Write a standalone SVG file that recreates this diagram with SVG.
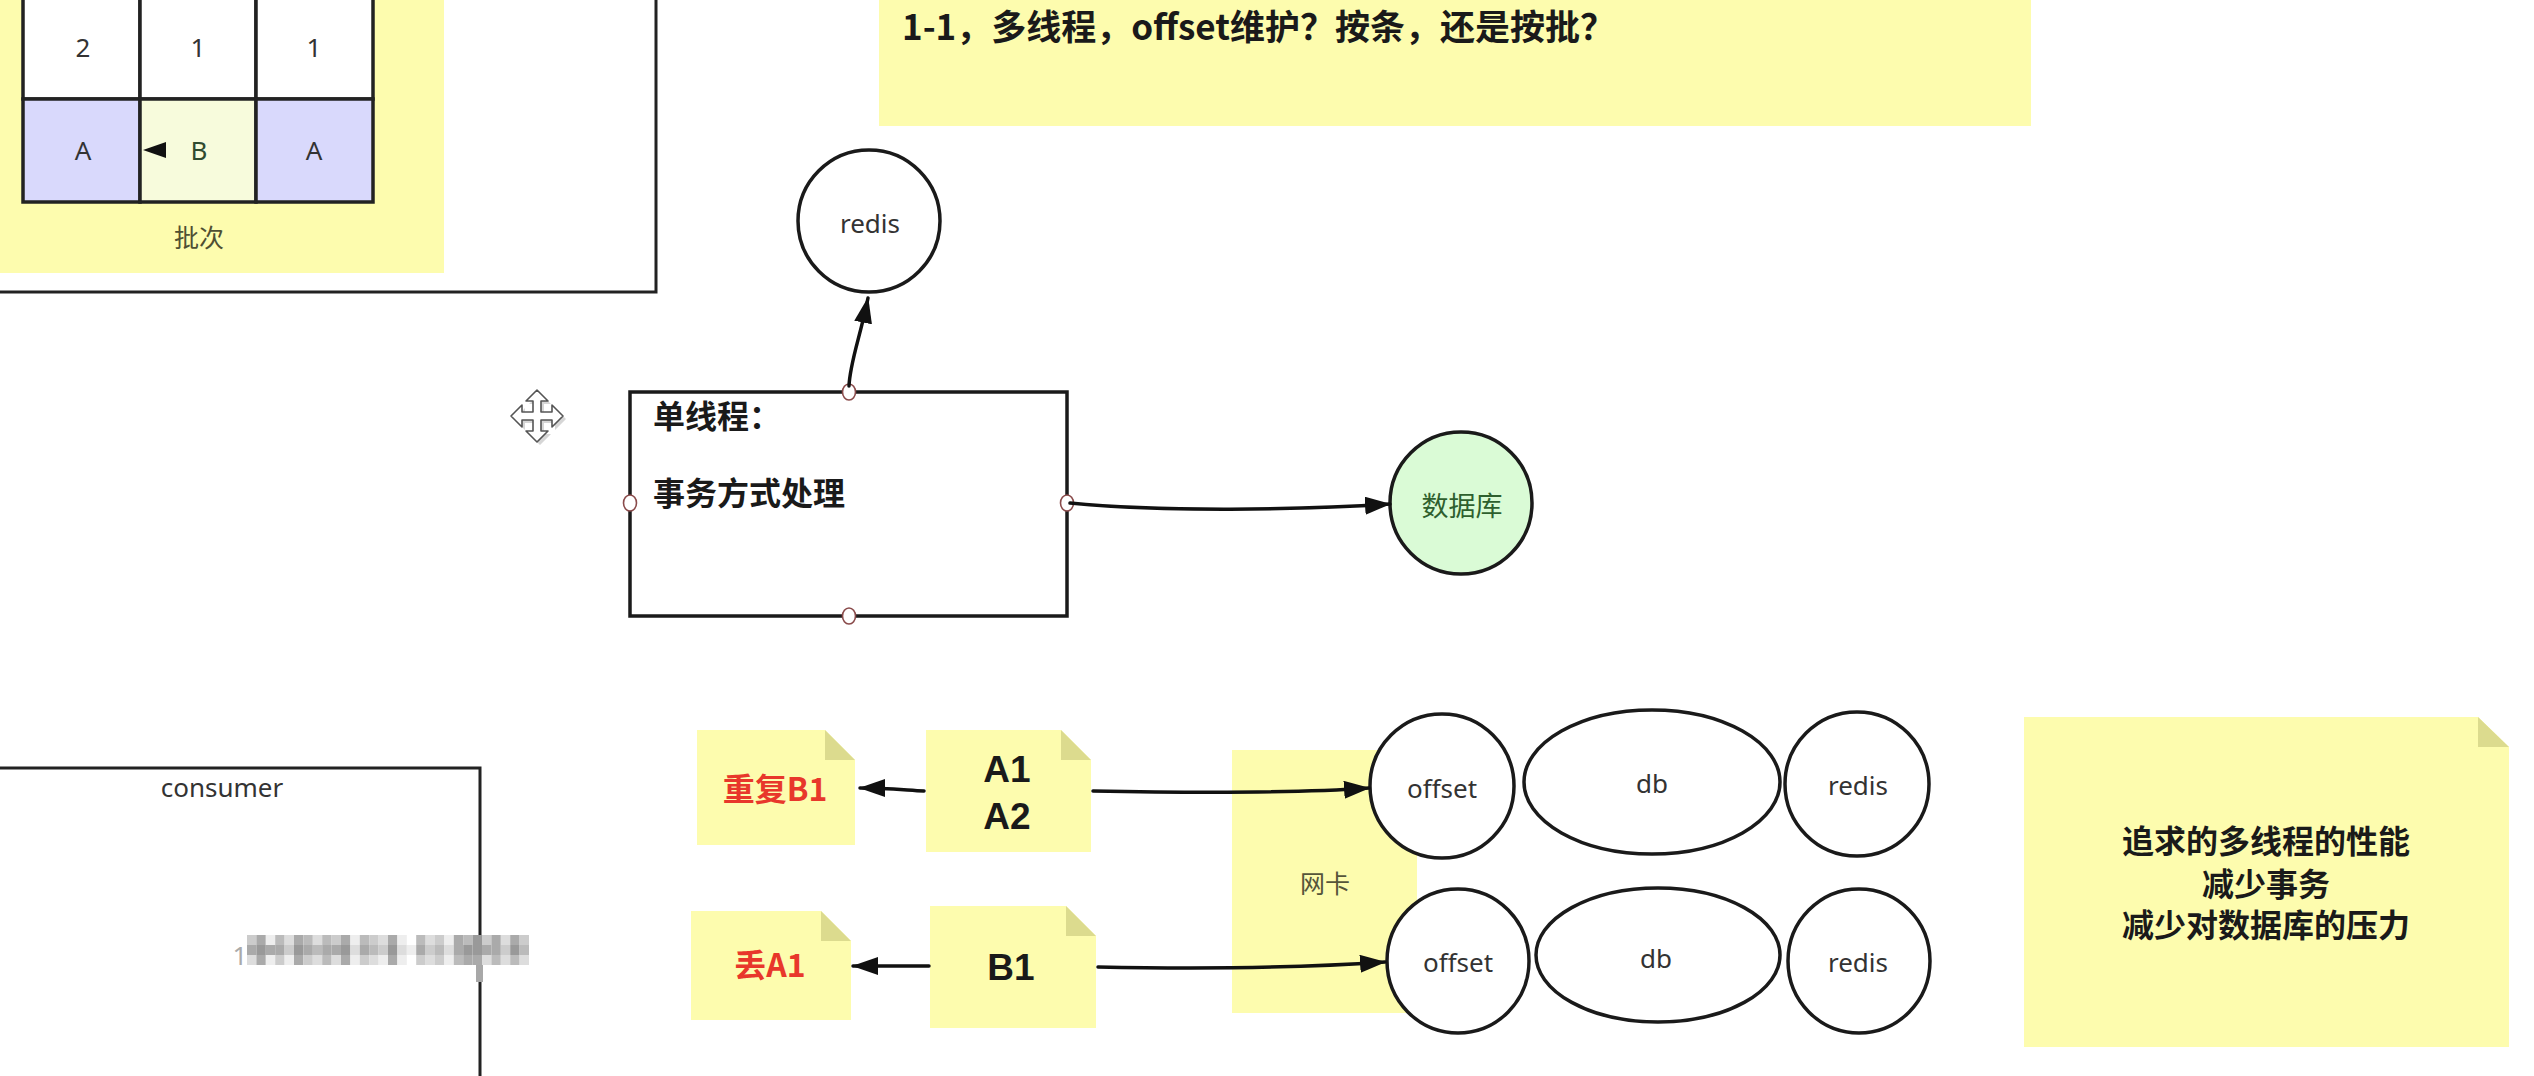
<svg xmlns="http://www.w3.org/2000/svg" width="2534" height="1076" viewBox="0 0 2534 1076">
  <defs>
    <style>
      .note { fill: #fdfcae; }
      .fold { fill: #dcdb8e; }
      .shape { fill: #ffffff; stroke: #1a1a1a; stroke-width: 3.5; }
      .cell { stroke: #222222; stroke-width: 3.5; }
      .frame { fill: none; stroke: #222222; stroke-width: 3; }
      .edge { fill: none; stroke: #111111; stroke-width: 3.5; stroke-linecap: round; }
      .port { fill: #ffffff; stroke: #8a4b4b; stroke-width: 1.6; }
      .lbl { font-family: "Noto Sans", "Noto Sans CJK SC", sans-serif; font-size: 26px; fill: #333333; text-anchor: middle; }
      .cjk { font-family: "Noto Sans CJK SC", "Noto Sans", sans-serif; }
      .bold { font-family: "Noto Sans CJK SC", "Noto Sans", sans-serif; font-weight: 700; fill: #1a1a1a; }
      .latin { font-family: "Liberation Sans", Arial, sans-serif; font-weight: 700; fill: #1a1a1a; text-anchor: middle; }
      .red { fill: #e8372b; }
    </style>
    <marker id="ah" viewBox="0 0 26 18" refX="25" refY="9" markerWidth="26" markerHeight="18" orient="auto" markerUnits="userSpaceOnUse">
      <path d="M0,0 L26,9 L0,18 Z" fill="#111111"/>
    </marker>
  </defs>

  <rect x="0" y="0" width="2534" height="1076" fill="#ffffff"/>

  <!-- upper-left frame with the batch table -->
  <g id="batch-frame">
    <path class="frame" d="M0,292 H656 V0"/>
    <rect class="note" x="0" y="0" width="444" height="273"/>
  </g>
  <g id="batch-table">
    <rect class="cell" x="23" y="-5" width="117" height="104" fill="#ffffff"/>
    <rect class="cell" x="140" y="-5" width="116" height="104" fill="#ffffff"/>
    <rect class="cell" x="256" y="-5" width="117" height="104" fill="#ffffff"/>
    <rect class="cell" x="23" y="99" width="117" height="103" fill="#d9d9fc"/>
    <rect class="cell" x="140" y="99" width="116" height="103" fill="#f7fbdc"/>
    <rect class="cell" x="256" y="99" width="117" height="103" fill="#d9d9fc"/>
    <text class="lbl" x="83" y="57" font-size="28">2</text>
    <text class="lbl" x="198" y="57" font-size="28">1</text>
    <text class="lbl" x="314" y="57" font-size="28">1</text>
    <text class="lbl" x="83" y="160" font-size="28">A</text>
    <text class="lbl" x="199" y="160" font-size="28" style="fill:#2f4a2f">B</text>
    <text class="lbl" x="314" y="160" font-size="28">A</text>
    <path d="M143,150 L166,142 L166,158 Z" fill="#111111"/>
    <text class="lbl cjk" x="199" y="247" style="font-size:25px;fill:#4f4f33">批次</text>
  </g>

  <!-- question banner -->
  <g id="question-note">
    <rect class="note" x="879" y="0" width="1152" height="126"/>
    <text class="bold" x="902" y="40" font-size="35">1-1，多线程，offset维护？按条，还是按批？</text>
  </g>

  <!-- single-thread flow -->
  <g id="redis-top">
    <ellipse class="shape" cx="869" cy="221" rx="71" ry="71"/>
    <text class="lbl" x="870" y="233">redis</text>
  </g>
  <g id="single-thread">
    <rect class="shape" x="630" y="392" width="437" height="224"/>
    <text class="bold" x="653" y="428" font-size="32">单线程：</text>
    <text class="bold" x="653" y="505" font-size="32">事务方式处理</text>
    <ellipse class="port" cx="849" cy="392" rx="6.5" ry="8"/>
    <ellipse class="port" cx="630" cy="503" rx="6.5" ry="8"/>
    <ellipse class="port" cx="1067" cy="503" rx="6.5" ry="8"/>
    <ellipse class="port" cx="849" cy="616" rx="6.5" ry="8"/>
  </g>
  <g id="database">
    <ellipse cx="1461" cy="503" rx="71" ry="71" fill="#dafbd6" stroke="#1a1a1a" stroke-width="3.5"/>
    <text class="lbl cjk" x="1462" y="516" style="font-size:27px;fill:#2e5f2e">数据库</text>
  </g>

  <!-- move cursor -->
  <g id="move-cursor" transform="translate(537,416)">
    <path transform="translate(3,3)" fill="#bbbbbb" opacity="0.6" d="M0,-26 L11,-15 L4,-15 L4,-4 L15,-4 L15,-11 L26,0 L15,11 L15,4 L4,4 L4,15 L11,15 L0,26 L-11,15 L-4,15 L-4,4 L-15,4 L-15,11 L-26,0 L-15,-11 L-15,-4 L-4,-4 L-4,-15 L-11,-15 Z"/>
    <path fill="#ffffff" stroke="#555555" stroke-width="1.6" stroke-linejoin="round" d="M0,-26 L11,-15 L4,-15 L4,-4 L15,-4 L15,-11 L26,0 L15,11 L15,4 L4,4 L4,15 L11,15 L0,26 L-11,15 L-4,15 L-4,4 L-15,4 L-15,11 L-26,0 L-15,-11 L-15,-4 L-4,-4 L-4,-15 L-11,-15 Z"/>
  </g>

  <!-- consumer frame -->
  <g id="consumer">
    <path class="frame" d="M0,768 H480 V935 M480,982 V1076"/>
    <rect x="476" y="935" width="7" height="47" fill="#a8a8a8"/>
    <text class="lbl" x="222" y="797">consumer</text>
    <text class="lbl" x="240" y="965" style="fill:#aaaaaa">1</text>
    <g id="mosaic">
      <rect x="247" y="935" width="9.4" height="10" fill="#cccccc"/><rect x="256.4" y="935" width="9.4" height="10" fill="#aaaaaa"/><rect x="265.8" y="935" width="9.4" height="10" fill="#eeeeee"/><rect x="275.2" y="935" width="9.4" height="10" fill="#bbbbbb"/><rect x="284.6" y="935" width="9.4" height="10" fill="#dddddd"/><rect x="294" y="935" width="9.4" height="10" fill="#aaaaaa"/><rect x="303.4" y="935" width="9.4" height="10" fill="#bbbbbb"/><rect x="312.8" y="935" width="9.4" height="10" fill="#dddddd"/><rect x="322.2" y="935" width="9.4" height="10" fill="#bbbbbb"/><rect x="331.6" y="935" width="9.4" height="10" fill="#cccccc"/><rect x="341" y="935" width="9.4" height="10" fill="#aaaaaa"/><rect x="350.4" y="935" width="9.4" height="10" fill="#eeeeee"/><rect x="359.8" y="935" width="9.4" height="10" fill="#bbbbbb"/><rect x="369.2" y="935" width="9.4" height="10" fill="#cccccc"/><rect x="378.6" y="935" width="9.4" height="10" fill="#dddddd"/><rect x="388" y="935" width="9.4" height="10" fill="#aaaaaa"/><rect x="397.4" y="935" width="9.4" height="10" fill="#eeeeee"/><rect x="416.2" y="935" width="9.4" height="10" fill="#bbbbbb"/><rect x="425.6" y="935" width="9.4" height="10" fill="#dddddd"/><rect x="435" y="935" width="9.4" height="10" fill="#cccccc"/><rect x="444.4" y="935" width="9.4" height="10" fill="#eeeeee"/><rect x="453.8" y="935" width="9.4" height="10" fill="#aaaaaa"/><rect x="463.2" y="935" width="9.4" height="10" fill="#bbbbbb"/><rect x="472.6" y="935" width="9.4" height="10" fill="#999999"/><rect x="482" y="935" width="9.4" height="10" fill="#cccccc"/><rect x="491.4" y="935" width="9.4" height="10" fill="#aaaaaa"/><rect x="500.8" y="935" width="9.4" height="10" fill="#dddddd"/><rect x="510.2" y="935" width="9.4" height="10" fill="#aaaaaa"/><rect x="519.6" y="935" width="9.4" height="10" fill="#cccccc"/>
      <rect x="247" y="945" width="9.4" height="10" fill="#aaaaaa"/><rect x="256.4" y="945" width="9.4" height="10" fill="#999999"/><rect x="265.8" y="945" width="9.4" height="10" fill="#aaaaaa"/><rect x="275.2" y="945" width="9.4" height="10" fill="#aaaaaa"/><rect x="284.6" y="945" width="9.4" height="10" fill="#cccccc"/><rect x="294" y="945" width="9.4" height="10" fill="#999999"/><rect x="303.4" y="945" width="9.4" height="10" fill="#aaaaaa"/><rect x="312.8" y="945" width="9.4" height="10" fill="#bbbbbb"/><rect x="322.2" y="945" width="9.4" height="10" fill="#aaaaaa"/><rect x="331.6" y="945" width="9.4" height="10" fill="#aaaaaa"/><rect x="341" y="945" width="9.4" height="10" fill="#999999"/><rect x="350.4" y="945" width="9.4" height="10" fill="#dddddd"/><rect x="359.8" y="945" width="9.4" height="10" fill="#aaaaaa"/><rect x="369.2" y="945" width="9.4" height="10" fill="#bbbbbb"/><rect x="378.6" y="945" width="9.4" height="10" fill="#cccccc"/><rect x="388" y="945" width="9.4" height="10" fill="#999999"/><rect x="397.4" y="945" width="9.4" height="10" fill="#dddddd"/><rect x="406.8" y="945" width="9.4" height="10" fill="#eeeeee"/><rect x="416.2" y="945" width="9.4" height="10" fill="#aaaaaa"/><rect x="425.6" y="945" width="9.4" height="10" fill="#cccccc"/><rect x="435" y="945" width="9.4" height="10" fill="#bbbbbb"/><rect x="444.4" y="945" width="9.4" height="10" fill="#dddddd"/><rect x="453.8" y="945" width="9.4" height="10" fill="#aaaaaa"/><rect x="463.2" y="945" width="9.4" height="10" fill="#999999"/><rect x="472.6" y="945" width="9.4" height="10" fill="#999999"/><rect x="482" y="945" width="9.4" height="10" fill="#aaaaaa"/><rect x="491.4" y="945" width="9.4" height="10" fill="#aaaaaa"/><rect x="500.8" y="945" width="9.4" height="10" fill="#cccccc"/><rect x="510.2" y="945" width="9.4" height="10" fill="#999999"/><rect x="519.6" y="945" width="9.4" height="10" fill="#bbbbbb"/>
      <rect x="247" y="955" width="9.4" height="10" fill="#dddddd"/><rect x="256.4" y="955" width="9.4" height="10" fill="#aaaaaa"/><rect x="265.8" y="955" width="9.4" height="10" fill="#eeeeee"/><rect x="275.2" y="955" width="9.4" height="10" fill="#cccccc"/><rect x="284.6" y="955" width="9.4" height="10" fill="#eeeeee"/><rect x="294" y="955" width="9.4" height="10" fill="#aaaaaa"/><rect x="303.4" y="955" width="9.4" height="10" fill="#cccccc"/><rect x="312.8" y="955" width="9.4" height="10" fill="#dddddd"/><rect x="322.2" y="955" width="9.4" height="10" fill="#bbbbbb"/><rect x="331.6" y="955" width="9.4" height="10" fill="#dddddd"/><rect x="341" y="955" width="9.4" height="10" fill="#aaaaaa"/><rect x="350.4" y="955" width="9.4" height="10" fill="#eeeeee"/><rect x="359.8" y="955" width="9.4" height="10" fill="#cccccc"/><rect x="369.2" y="955" width="9.4" height="10" fill="#dddddd"/><rect x="378.6" y="955" width="9.4" height="10" fill="#eeeeee"/><rect x="388" y="955" width="9.4" height="10" fill="#aaaaaa"/><rect x="397.4" y="955" width="9.4" height="10" fill="#eeeeee"/><rect x="416.2" y="955" width="9.4" height="10" fill="#cccccc"/><rect x="425.6" y="955" width="9.4" height="10" fill="#dddddd"/><rect x="435" y="955" width="9.4" height="10" fill="#cccccc"/><rect x="444.4" y="955" width="9.4" height="10" fill="#eeeeee"/><rect x="453.8" y="955" width="9.4" height="10" fill="#bbbbbb"/><rect x="463.2" y="955" width="9.4" height="10" fill="#aaaaaa"/><rect x="472.6" y="955" width="9.4" height="10" fill="#aaaaaa"/><rect x="482" y="955" width="9.4" height="10" fill="#dddddd"/><rect x="491.4" y="955" width="9.4" height="10" fill="#bbbbbb"/><rect x="500.8" y="955" width="9.4" height="10" fill="#dddddd"/><rect x="510.2" y="955" width="9.4" height="10" fill="#bbbbbb"/><rect x="519.6" y="955" width="9.4" height="10" fill="#dddddd"/>
    </g>
  </g>

  <!-- NIC backdrop -->
  <g id="nic">
    <rect class="note" x="1232" y="750" width="185" height="263"/>
    <text class="lbl cjk" x="1325" y="893" style="font-size:25px;fill:#55553a">网卡</text>
  </g>

  <!-- message notes -->
  <g id="dup-b1">
    <path class="note" d="M697,730 H825 L855,760 V845 H697 Z"/>
    <path class="fold" d="M825,730 V760 H855 Z"/>
    <text class="bold red" x="775" y="801" font-size="32" text-anchor="middle">重复B1</text>
  </g>
  <g id="msg-a">
    <path class="note" d="M926,730 H1061 L1091,760 V852 H926 Z"/>
    <path class="fold" d="M1061,730 V760 H1091 Z"/>
    <text class="latin" x="1007" y="782" font-size="37">A1</text>
    <text class="latin" x="1007" y="829" font-size="37">A2</text>
  </g>
  <g id="lost-a1">
    <path class="note" d="M691,911 H821 L851,941 V1020 H691 Z"/>
    <path class="fold" d="M821,911 V941 H851 Z"/>
    <text class="bold red" x="770" y="977" font-size="32" text-anchor="middle">丢A1</text>
  </g>
  <g id="msg-b">
    <path class="note" d="M930,906 H1066 L1096,936 V1028 H930 Z"/>
    <path class="fold" d="M1066,906 V936 H1096 Z"/>
    <text class="latin" x="1011" y="980" font-size="37">B1</text>
  </g>

  <!-- storage rows -->
  <g id="offset-1">
    <ellipse class="shape" cx="1442" cy="786" rx="72" ry="72"/>
    <text class="lbl" x="1442" y="798">offset</text>
  </g>
  <g id="db-1">
    <ellipse class="shape" cx="1652" cy="782" rx="128" ry="72"/>
    <text class="lbl" x="1652" y="793">db</text>
  </g>
  <g id="redis-1">
    <ellipse class="shape" cx="1857" cy="784" rx="72" ry="72"/>
    <text class="lbl" x="1858" y="795">redis</text>
  </g>
  <g id="offset-2">
    <ellipse class="shape" cx="1458" cy="961" rx="71" ry="72"/>
    <text class="lbl" x="1458" y="972">offset</text>
  </g>
  <g id="db-2">
    <ellipse class="shape" cx="1658" cy="955" rx="122" ry="67"/>
    <text class="lbl" x="1656" y="968">db</text>
  </g>
  <g id="redis-2">
    <ellipse class="shape" cx="1859" cy="961" rx="71" ry="72"/>
    <text class="lbl" x="1858" y="972">redis</text>
  </g>

  <!-- summary note -->
  <g id="summary">
    <path class="note" d="M2024,717 H2478 L2509,747 V1047 H2024 Z"/>
    <path class="fold" d="M2478,717 V747 H2509 Z"/>
    <text class="bold" x="2266" y="853" font-size="32" text-anchor="middle">追求的多线程的性能</text>
    <text class="bold" x="2266" y="896" font-size="32" text-anchor="middle">减少事务</text>
    <text class="bold" x="2266" y="937" font-size="32" text-anchor="middle">减少对数据库的压力</text>
  </g>

  <!-- connectors -->
  <g id="connectors">
    <path class="edge" d="M849,386 C850,362 860,338 868,298" marker-end="url(#ah)"/>
    <path class="edge" d="M1070,503 C1160,512 1300,510 1390,504" marker-end="url(#ah)"/>
    <path class="edge" d="M924,791 C905,790 885,788 860,788" marker-end="url(#ah)"/>
    <path class="edge" d="M1093,791 C1200,793 1300,793 1369,788" marker-end="url(#ah)"/>
    <path class="edge" d="M929,966 L853,966" marker-end="url(#ah)"/>
    <path class="edge" d="M1098,967 C1200,969 1300,968 1385,962" marker-end="url(#ah)"/>
  </g>
</svg>
